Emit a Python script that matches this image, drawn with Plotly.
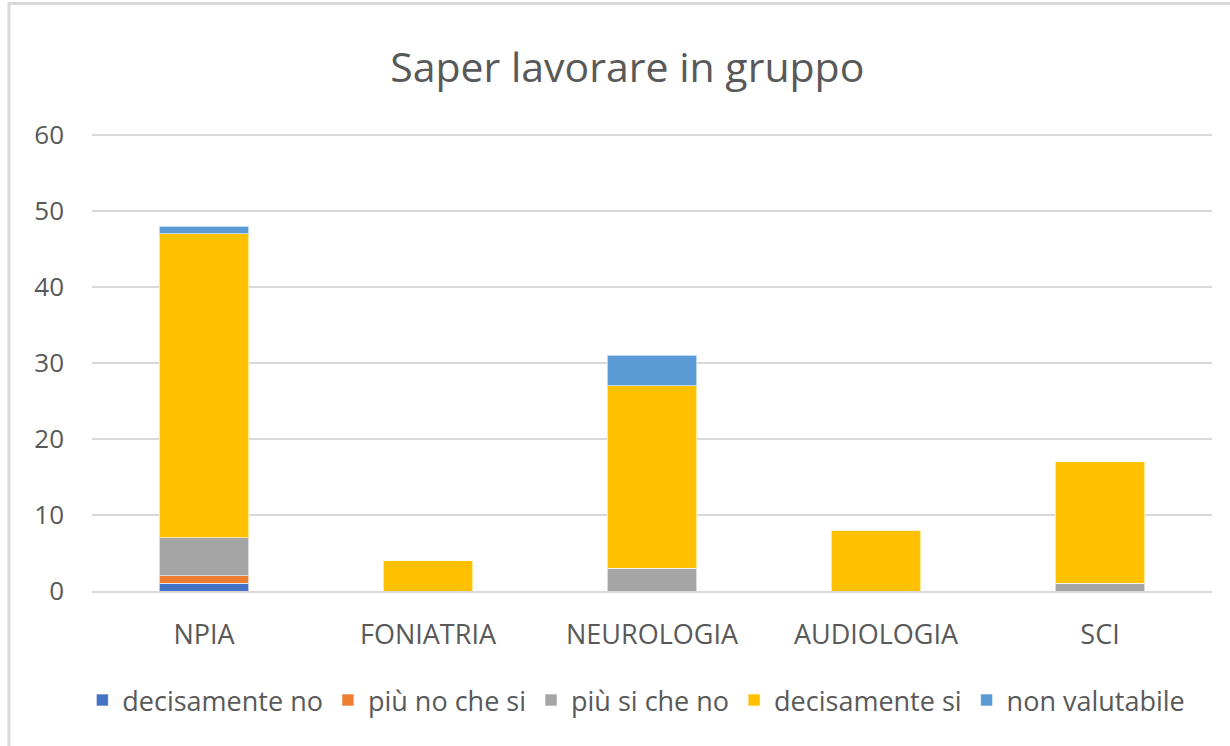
import plotly.graph_objects as go

categories = ["NPIA", "FONIATRIA", "NEUROLOGIA", "AUDIOLOGIA", "SCI"]

decisamente_no = [1, 0, 0, 0, 0]
piu_no_che_si = [1, 0, 0, 0, 0]
piu_si_che_no = [5, 0, 3, 0, 1]
decisamente_si = [40, 4, 24, 8, 16]
non_valutabile = [1, 0, 4, 0, 0]

series = [
    ("decisamente no", decisamente_no, "#4472C4"),
    ("più no che si", piu_no_che_si, "#ED7D31"),
    ("più si che no", piu_si_che_no, "#A5A5A5"),
    ("decisamente si", decisamente_si, "#FFC000"),
    ("non valutabile", non_valutabile, "#5B9BD5"),
]

FONT = "Open Sans, sans-serif"
GREY_TEXT = "#595959"

fig = go.Figure()
for name, vals, color in series:
    fig.add_trace(
        go.Bar(
            x=categories,
            y=vals,
            name=name,
            marker=dict(color=color, line=dict(color="rgba(255,255,255,0.6)", width=1)),
        )
    )

# plot area: 60 -> y=135px, 0 -> y=591px
fig.update_layout(
    width=1230,
    height=746,
    barmode="stack",
    bargap=0.6,
    plot_bgcolor="white",
    paper_bgcolor="white",
    margin=dict(l=92, r=18, t=133, b=155),
    font=dict(family=FONT, color=GREY_TEXT, size=27),
    title=dict(
        text="Saper lavorare in gruppo",
        x=0.51,
        xanchor="center",
        y=1 - 68 / 746,
        yanchor="middle",
        font=dict(size=41, color=GREY_TEXT, family=FONT),
    ),
    legend=dict(
        orientation="h",
        x=0.486,
        xanchor="center",
        y=-0.239,
        yanchor="middle",
        font=dict(size=27, color=GREY_TEXT),
        traceorder="normal",
        itemwidth=30,
    ),
    shapes=[
        dict(
            type="rect",
            xref="paper",
            yref="paper",
            x0=-0.0741,
            x1=1.2,
            y0=-0.6,
            y1=1.283,
            line=dict(color="#D9D9D9", width=3),
            layer="below",
        )
    ],
)

fig.update_yaxes(
    range=[0, 60.25],
    tickvals=[0, 10, 20, 30, 40, 50, 60],
    showgrid=True,
    gridcolor="#D9D9D9",
    gridwidth=2,
    zeroline=False,
    showline=False,
    ticks="",
    ticklabelstandoff=27,
    tickfont=dict(size=26, color=GREY_TEXT),
)
fig.update_xaxes(
    showline=True,
    linecolor="#D9D9D9",
    linewidth=2,
    showgrid=False,
    ticks="",
    ticklabelstandoff=19,
    tickfont=dict(size=27, color=GREY_TEXT),
)

fig.write_html(
    "out.html",
    config={"displayModeBar": False},
    post_script="document.body.style.margin='0';",
)
